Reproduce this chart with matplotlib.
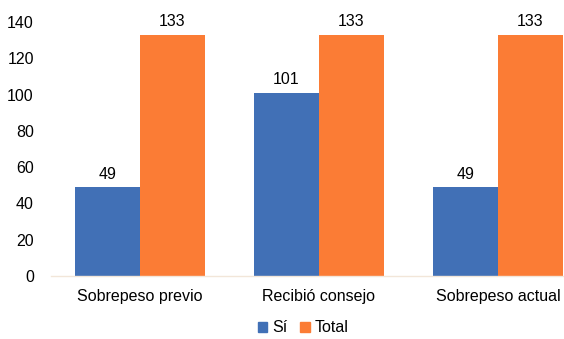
import matplotlib
matplotlib.use("Agg")
import matplotlib.pyplot as plt
import numpy as np
from matplotlib.patches import Patch

categories = ["Sobrepeso previo", "Recibió consejo", "Sobrepeso actual"]
si_values = [49, 101, 49]
total_values = [133, 133, 133]
yticks = [0, 20, 40, 60, 80, 100, 120, 140]

plt.rcParams['font.family'] = ['Liberation Sans', 'DejaVu Sans']

fig = plt.figure(figsize=(5.64, 3.39), dpi=100)
W, H = 564, 339
left, right = 50.5, 564
bottom, top = 276, 22
ax = fig.add_axes([left / W, (H - bottom) / H, (right - left) / W, (bottom - top) / H])

blue = "#4170B6"
orange = "#FB7C35"
x = np.arange(len(categories))
bw = 65 / 179
ax.bar(x - bw / 2, si_values, bw, color=blue)
ax.bar(x + bw / 2, total_values, bw, color=orange)

for xi, v in zip(x, si_values):
    ax.text(xi - bw / 2, v + 3, str(v), ha="center", va="bottom", fontsize=11.5)
for xi, v in zip(x, total_values):
    ax.text(xi + bw / 2, v + 3, str(v), ha="center", va="bottom", fontsize=11.5)

ax.set_xlim(-0.5, -0.5 + (right - left) / 179)
ax.set_ylim(0, 140)
ax.set_yticks(yticks)
ax.set_yticklabels([str(t) for t in yticks], fontsize=11.5)
ax.set_xticks(x)
ax.set_xticklabels(categories, fontsize=11.5)
ax.tick_params(length=0)
ax.tick_params(axis="y", pad=12)
ax.tick_params(axis="x", pad=9)
for s in ["top", "right", "left"]:
    ax.spines[s].set_visible(False)
ax.spines["bottom"].set_color("#F2E6D9")
ax.spines["bottom"].set_linewidth(1)

handles = [Patch(color=blue, label="Sí"), Patch(color=orange, label="Total")]
fig.legend(handles=handles, loc="center", bbox_to_anchor=(303 / W, (H - 328) / H), ncol=2,
           frameon=False, fontsize=11.5, handlelength=0.6, handleheight=0.6,
           handletextpad=0.3, columnspacing=0.8)

fig.savefig("out.png", dpi=100)
